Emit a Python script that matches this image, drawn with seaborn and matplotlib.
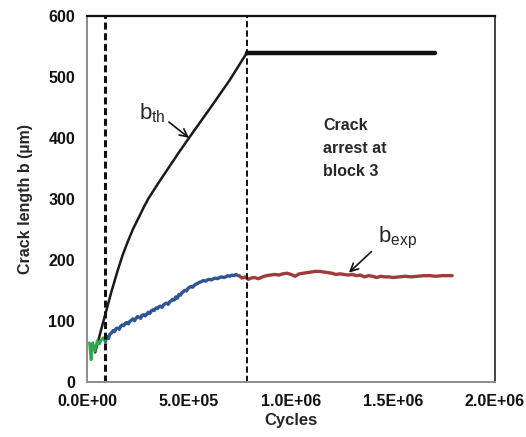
import matplotlib
matplotlib.use("Agg")
import matplotlib.pyplot as plt
import seaborn as sns
import pandas as pd

# --- data -------------------------------------------------------------
# theoretical crack length b_th (cycles, µm)
th_cycles = [4.0e4, 6.5e4, 9.0e4, 1.2e5, 1.5e5, 1.75e5, 2.0e5, 2.25e5, 2.5e5,
             2.75e5, 3.0e5, 3.5e5, 4.0e5, 4.5e5, 5.0e5, 6.0e5, 7.0e5, 7.84e5]
th_length = [48, 80, 111, 148, 182, 208, 230, 250, 267, 284, 300, 326, 351,
             376, 400, 447, 495, 540]

# arrested crack length after block 3
arrest_cycles = [7.84e5, 1.706e6]
arrest_length = [540, 540]

# measured crack length b_exp, block 1
b1_cycles = [1.2e4, 1.6e4, 2.0e4, 2.4e4, 2.8e4, 3.3e4, 3.8e4, 4.4e4, 5.0e4,
             5.6e4, 6.2e4, 6.8e4, 7.4e4, 8.0e4, 8.6e4, 9.2e4]
b1_length = [64, 50, 36, 52, 64, 58, 50, 58, 67, 64, 62, 68, 70, 72, 68, 70]

# measured crack length b_exp, block 2
b2_cycles = [9.0e4, 9.5e4, 1.0e5, 1.05e5, 1.1e5, 1.2e5, 1.28e5, 1.35e5, 1.42e5,
             1.5e5, 1.58e5, 1.65e5, 1.72e5, 1.8e5, 1.88e5, 1.95e5, 2.03e5,
             2.1e5, 2.18e5, 2.25e5, 2.33e5, 2.4e5, 2.48e5, 2.55e5, 2.63e5,
             2.7e5, 2.78e5, 2.85e5, 2.93e5, 3.0e5, 3.08e5, 3.15e5, 3.23e5,
             3.3e5, 3.38e5, 3.45e5, 3.53e5, 3.6e5, 3.68e5, 3.75e5, 3.83e5,
             3.9e5, 3.98e5, 4.05e5, 4.13e5, 4.2e5, 4.28e5, 4.35e5, 4.43e5,
             4.5e5, 4.58e5, 4.65e5, 4.73e5, 4.8e5, 4.88e5, 4.95e5, 5.03e5,
             5.1e5, 5.18e5, 5.25e5, 5.33e5, 5.4e5, 5.5e5, 5.6e5, 5.7e5, 5.8e5,
             5.9e5, 6.0e5, 6.1e5, 6.2e5, 6.3e5, 6.4e5, 6.5e5, 6.6e5, 6.7e5,
             6.8e5, 6.9e5, 7.0e5, 7.1e5, 7.2e5, 7.3e5, 7.4e5]
b2_length = [66, 72, 74, 71, 77, 80, 84, 82, 87, 88, 86, 91, 93, 92, 96, 97,
             95, 99, 101, 103, 100, 104, 107, 106, 104, 109, 110, 108, 111,
             114, 112, 116, 118, 117, 121, 120, 123, 124, 122, 126, 128, 129,
             127, 131, 133, 135, 134, 139, 137, 143, 142, 146, 148, 150, 149,
             153, 155, 156, 155, 158, 160, 161, 163, 164, 166, 165, 167, 168,
             167, 169, 170, 169, 171, 172, 171, 172, 174, 173, 175, 174, 176,
             174]

# measured crack length b_exp, block 3
b3_cycles = [7.45e5, 7.6e5, 7.75e5, 7.9e5, 8.05e5, 8.2e5, 8.4e5, 8.6e5, 8.8e5,
             9.0e5, 9.2e5, 9.4e5, 9.6e5, 9.8e5, 1.0e6, 1.02e6, 1.04e6, 1.06e6,
             1.08e6, 1.1e6, 1.12e6, 1.14e6, 1.16e6, 1.18e6, 1.2e6, 1.22e6,
             1.24e6, 1.26e6, 1.28e6, 1.3e6, 1.32e6, 1.34e6, 1.36e6, 1.38e6,
             1.4e6, 1.42e6, 1.44e6, 1.46e6, 1.48e6, 1.5e6, 1.53e6, 1.56e6,
             1.59e6, 1.62e6, 1.65e6, 1.68e6, 1.71e6, 1.74e6, 1.77e6, 1.79e6]
b3_length = [174, 170, 172, 168, 170, 171, 169, 172, 174, 175, 176, 175, 177,
             178, 176, 173, 177, 178, 179, 180, 181, 181, 180, 179, 178, 176,
             177, 176, 175, 176, 174, 175, 172, 174, 173, 171, 173, 172, 172,
             171, 172, 173, 172, 173, 174, 174, 173, 174, 174, 174]

# block boundaries
block_ends = [8.8e4, 7.84e5]

xticks = [0, 5e5, 1e6, 1.5e6, 2e6]
xtick_labels = ["0.0E+00", "5.0E+05", "1.0E+06", "1.5E+06", "2.0E+06"]
yticks = [0, 100, 200, 300, 400, 500, 600]

# --- style ------------------------------------------------------------
sns.set_style("white")
plt.rcParams["font.family"] = ["Liberation Sans", "DejaVu Sans"]
plt.rcParams["font.weight"] = "bold"
plt.rcParams["axes.labelweight"] = "bold"
plt.rcParams["mathtext.fontset"] = "custom"
plt.rcParams["mathtext.rm"] = "Liberation Sans:normal"
plt.rcParams["mathtext.it"] = "Liberation Sans:normal"

fig = plt.figure(figsize=(5.26, 4.37), dpi=100)
ax = fig.add_axes([0.1654, 0.1265, 0.7757, 0.8369])

# --- curves -----------------------------------------------------------
sns.lineplot(data=pd.DataFrame({"x": th_cycles, "y": th_length}), x="x", y="y",
             ax=ax, color="#1a1a1a", lw=1.8, sort=False)
sns.lineplot(data=pd.DataFrame({"x": arrest_cycles, "y": arrest_length}), x="x", y="y",
             ax=ax, color="#111111", lw=3.2, sort=False)
sns.lineplot(data=pd.DataFrame({"x": b2_cycles, "y": b2_length}), x="x", y="y",
             ax=ax, color="#2f5597", lw=2.4, sort=False)
sns.lineplot(data=pd.DataFrame({"x": b3_cycles, "y": b3_length}), x="x", y="y",
             ax=ax, color="#9e3b3b", lw=2.4, sort=False)
sns.lineplot(data=pd.DataFrame({"x": b1_cycles, "y": b1_length}), x="x", y="y",
             ax=ax, color="#2ea84a", lw=2.0, sort=False)

ax.axvline(block_ends[0], color="#111111", lw=2.2, ls=(0, (2.3, 1.2)))
ax.axvline(block_ends[1], color="#111111", lw=1.4, ls=(0, (3.2, 1.6)))

# --- annotations ------------------------------------------------------
ax.annotate(r"b$_{\rm th}$", xy=(5.0e5, 400), xytext=(2.55e5, 440),
            fontsize=16, fontweight="normal", va="center", ha="left",
            arrowprops=dict(arrowstyle="->", color="#111111", lw=1.2,
                            mutation_scale=14, shrinkA=0, shrinkB=0,
                            relpos=(1.0, 0.25)))
ax.annotate(r"b$_{\rm exp}$", xy=(1.284e6, 179), xytext=(1.425e6, 236),
            fontsize=16, fontweight="normal", va="center", ha="left",
            arrowprops=dict(arrowstyle="->", color="#111111", lw=1.2,
                            mutation_scale=14, shrinkA=3, shrinkB=0,
                            relpos=(0.0, 0.2)))
ax.text(1.157e6, 432, "Crack\narrest at\nblock 3", fontsize=11.5, va="top",
        ha="left", linespacing=1.65)

# --- axes -------------------------------------------------------------
ax.set_xlim(0, 2e6)
ax.set_ylim(0, 600)
ax.set_xticks(xticks)
ax.set_xticklabels(xtick_labels)
ax.set_yticks(yticks)
ax.set_xlabel("Cycles", fontsize=12, labelpad=3)
ax.set_ylabel("Crack length b (µm)", fontsize=11.5, labelpad=11)
ax.tick_params(axis="both", labelsize=11.5, colors="#111111",
               direction="out", length=4, width=1, pad=4.5)
ax.tick_params(axis="x", color="#8c8c8c")
ax.tick_params(axis="y", color="#8c8c8c")

for side in ("left", "bottom"):
    ax.spines[side].set_color("#8c8c8c")
    ax.spines[side].set_linewidth(1.4)
ax.spines["top"].set_color("#111111")
ax.spines["top"].set_linewidth(1.6)
ax.spines["right"].set_color("#111111")
ax.spines["right"].set_linewidth(1.1)

fig.savefig("out.png", dpi=100)
